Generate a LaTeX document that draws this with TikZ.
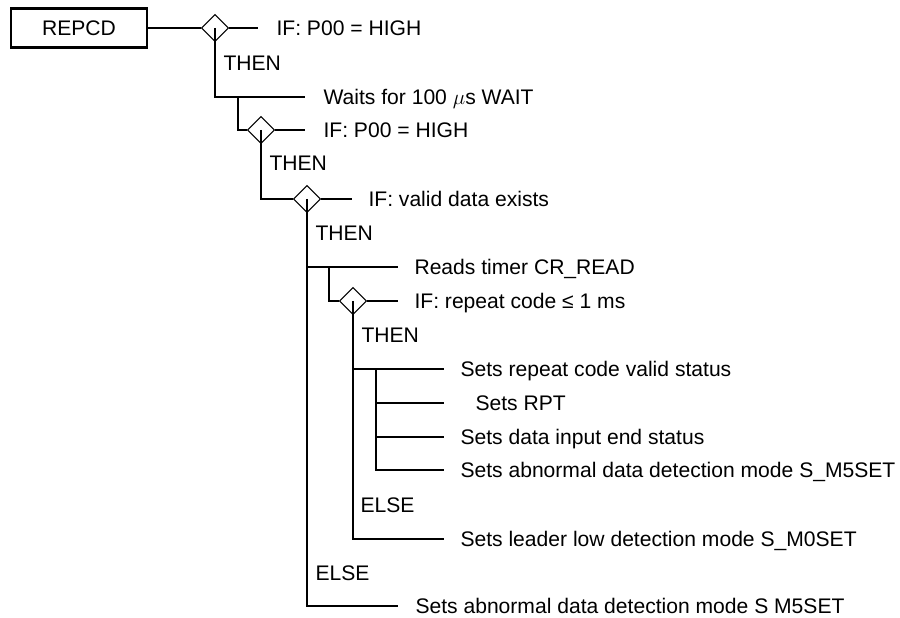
\documentclass[tikz,border=0pt]{standalone}
\usepackage{fontspec}
\setmainfont{Liberation Sans}
\usetikzlibrary{positioning,shapes.geometric}

\tikzset{
  cond/.style={draw, diamond, inner sep=0pt, minimum width=0.54cm, minimum height=0.54cm},
  txt/.style={inner sep=0pt, text height=8.6pt, text depth=0pt},
  lbl/.style={txt, anchor=west},
}

\begin{document}
\begin{tikzpicture}[font=\fontsize{12}{14}\selectfont, line width=0.6pt]
\useasboundingbox (0,0) rectangle (18,-12.36);

\node[draw, line width=1.6pt, minimum width=2.72cm, minimum height=0.78cm,
      inner sep=0pt, text height=8.6pt, text depth=0pt] (repcd) at (1.58,-0.56) {REPCD};

% first test
\node[cond] (if1) at (4.30,-0.56) {};
\coordinate (e1) at (5.16,-0.56);
\node[txt, right=0.36cm of e1] (t1) {IF: P00 = HIGH};
\node[lbl] (then1) at (4.46,-1.26) {THEN};
\coordinate (e2) at (6.10,-1.94);
\node[txt, right=0.36cm of e2] (t2) {Waits for 100 $\mu$s WAIT};
\coordinate (b1) at (4.76,-1.94);

% second test
\node[cond] (if2) at (5.22,-2.60) {};
\coordinate (e3) at (6.10,-2.60);
\node[txt, right=0.36cm of e3] (t3) {IF: P00 = HIGH};
\node[lbl] (then2) at (5.38,-3.26) {THEN};

% valid data
\node[cond] (if3) at (6.14,-3.98) {};
\coordinate (e4) at (7.04,-3.98);
\node[txt, right=0.32cm of e4] (t4) {IF: valid data exists};
\node[lbl] (then3) at (6.30,-4.66) {THEN};
\coordinate (j5) at (6.14,-5.34);
\coordinate (e5) at (7.96,-5.34);
\node[txt, right=0.32cm of e5] (t5) {Reads timer CR\_READ};
\coordinate (b2) at (6.58,-5.34);

% repeat code
\node[cond] (if4) at (7.06,-6.02) {};
\coordinate (e6) at (7.96,-6.02);
\node[txt, right=0.32cm of e6] (t6) {IF: repeat code ≤ 1 ms};
\node[lbl] (then4) at (7.22,-6.70) {THEN};
\coordinate (j7) at (7.06,-7.38);
\coordinate (e7) at (8.88,-7.38);
\node[txt, right=0.32cm of e7] (t7) {Sets repeat code valid status};
\coordinate (b3) at (7.52,-7.38);
\coordinate (e8) at (8.88,-8.06);
\node[txt, right=0.62cm of e8] (t8) {Sets RPT};
\coordinate (e9) at (8.88,-8.74);
\node[txt, right=0.32cm of e9] (t9) {Sets data input end status};
\coordinate (e10) at (8.88,-9.40);
\node[txt, right=0.32cm of e10] (t10) {Sets abnormal data detection mode S\_M5SET};
\node[lbl] (else1) at (7.20,-10.10) {ELSE};
\coordinate (e11) at (8.88,-10.78);
\node[txt, right=0.32cm of e11] (t11) {Sets leader low detection mode S\_M0SET};
\node[lbl] (else2) at (6.30,-11.46) {ELSE};
\coordinate (e12) at (7.96,-12.12);
\node[txt, right=0.34cm of e12] (t12) {Sets abnormal data detection mode S M5SET};

% connectors
\draw (repcd.east) -- (if1.west);
\draw (if1.east) -- (e1);
\draw (if1.center) |- (e2);
\draw (b1) |- (if2.west);
\draw (if2.east) -- (e3);
\draw (if2.center) |- (if3.west);
\draw (if3.east) -- (e4);
\draw (if3.center) |- (e12);
\draw (j5) -- (e5);
\draw (b2) |- (if4.west);
\draw (if4.east) -- (e6);
\draw (if4.center) |- (e11);
\draw (j7) -- (e7);
\draw (b3) |- (e10);
\foreach \n in {8,9}
  \draw (b3 |- e\n) -- (e\n);
\end{tikzpicture}
\end{document}
